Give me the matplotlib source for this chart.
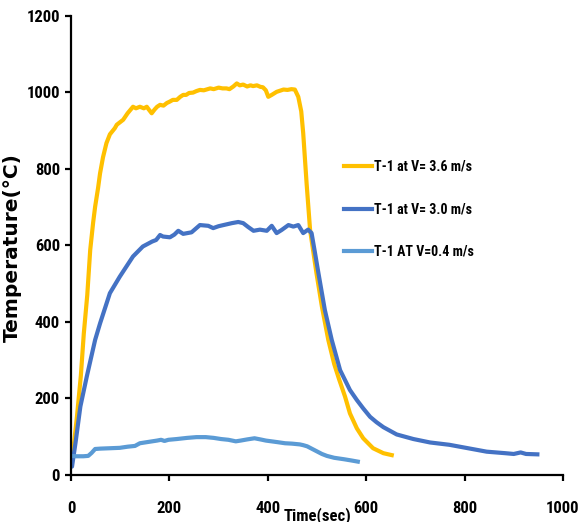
import matplotlib
matplotlib.use('Agg')
import matplotlib.pyplot as plt

# T-1 at V = 3.6 m/s
t_36 = [0, 5, 12, 20, 26, 33, 39, 45, 49, 55, 59, 65, 72, 79, 89, 93, 106, 115,
        126, 132, 140, 148, 154, 158, 164, 170, 175, 181, 188, 195, 200, 207, 215,
        222, 228, 234, 240, 248, 255, 262, 270, 283, 290, 300, 308, 316, 322, 330,
        337, 343, 350, 358, 365, 370, 378, 385, 390, 396, 401, 408, 418, 425, 432,
        440, 448, 455, 462, 468, 472, 479, 486, 499, 510, 523, 535, 545, 557, 567,
        581, 594, 614, 635, 652]
T_36 = [30, 70, 152, 260, 370, 470, 588, 660, 701, 750, 788, 830, 867, 890, 906,
        915, 928, 945, 962, 958, 962, 958, 962, 955, 945, 955, 962, 967, 965, 972,
        975, 980, 980, 988, 993, 993, 998, 999, 1003, 1006, 1005, 1010, 1008, 1012,
        1010, 1010, 1008, 1015, 1023, 1018, 1020, 1015, 1018, 1016, 1018, 1014,
        1013, 1005, 988, 993, 1001, 1004, 1007, 1006, 1008, 1007, 988, 950, 893,
        760, 640, 527, 440, 353, 290, 250, 205, 161, 122, 96, 70, 57, 52]

# T-1 at V = 3.0 m/s
t_30 = [0, 2, 9, 19, 32, 49, 59, 79, 99, 126, 146, 165, 173, 181, 187, 201, 210,
        218, 228, 245, 262, 279, 289, 300, 310, 327, 340, 350, 360, 371, 384, 398,
        408, 418, 428, 442, 452, 462, 472, 482, 489, 496, 503, 516, 530, 547, 557,
        567, 581, 594, 608, 621, 635, 662, 696, 730, 769, 807, 845, 883, 900, 914,
        925, 948]
T_30 = [25, 22, 83, 179, 257, 353, 396, 475, 518, 571, 597, 610, 614, 627, 623,
        621, 628, 638, 630, 634, 653, 651, 645, 650, 653, 658, 661, 658, 648, 638,
        641, 638, 651, 632, 640, 653, 649, 653, 632, 641, 632, 580, 527, 431, 353,
        274, 248, 222, 196, 174, 152, 138, 125, 106, 94, 85, 79, 70, 61, 57, 55,
        59, 55, 54]

# T-1 at V = 0.4 m/s
t_04 = [0, 10, 25, 35, 42, 49, 60, 80, 99, 115, 130, 140, 160, 175, 183, 190, 198,
        215, 236, 255, 274, 290, 305, 320, 335, 345, 358, 373, 385, 396, 419, 435,
        449, 465, 472, 480, 495, 510, 520, 535, 556, 570, 583]
T_04 = [50, 49, 49, 50, 58, 68, 69, 70, 71, 74, 76, 83, 87, 90, 92, 89, 92, 94, 97,
        99, 99, 97, 94, 92, 88, 90, 93, 96, 93, 90, 86, 83, 82, 80, 78, 75, 65, 55,
        50, 45, 41, 38, 35]

labels = ['T-1 at V= 3.6 m/s', 'T-1 at V= 3.0 m/s', 'T-1 AT V=0.4 m/s']
colors = ['#FFC000', '#4472C4', '#5B9BD5']

# condensed faces first, plain Liberation Sans if none is installed
narrow = ['Liberation Sans Narrow', 'Roboto Condensed', 'Liberation Sans']

fig = plt.figure(figsize=(5.87, 5.22), dpi=100)
ax = fig.add_axes([0.121, 0.090, 0.838, 0.880])

ax.plot(t_36, T_36, color=colors[0], lw=3, label=labels[0])
ax.plot(t_30, T_30, color=colors[1], lw=3, label=labels[1])
ax.plot(t_04, T_04, color=colors[2], lw=3, label=labels[2])

ax.set_xlim(0, 1000)
ax.set_ylim(0, 1200)
ax.set_xticks(range(0, 1001, 200))
ax.set_yticks(range(0, 1201, 200))
for side in ['top', 'right']:
    ax.spines[side].set_visible(False)
for side in ['left', 'bottom']:
    ax.spines[side].set_linewidth(1.6)
ax.tick_params(direction='out', length=4, width=1.6, labelsize=12)
ax.tick_params(axis='x', pad=15)
ax.tick_params(axis='y', pad=4)
for lbl in ax.get_xticklabels() + ax.get_yticklabels():
    lbl.set_family(narrow)
    lbl.set_fontweight('bold')

ax.set_ylabel('Temperature(°C)', fontsize=14.5, fontweight='bold',
              family='DejaVu Sans')
ax.yaxis.set_label_coords(22 / 587 / 0.838 - 0.121 / 0.838, 0.495)
fig.text(317 / 587, 1 - 507 / 522, 'Time(sec)', ha='center', va='top',
         family=narrow, fontweight='bold', fontsize=12)

ax.legend(loc='upper left', bbox_to_anchor=(0.53, 0.713), frameon=False,
          prop={'family': narrow, 'weight': 'bold', 'size': 10},
          handlelength=2.0, handletextpad=0.15, labelspacing=2.05)

fig.savefig('out.png', dpi=100)
